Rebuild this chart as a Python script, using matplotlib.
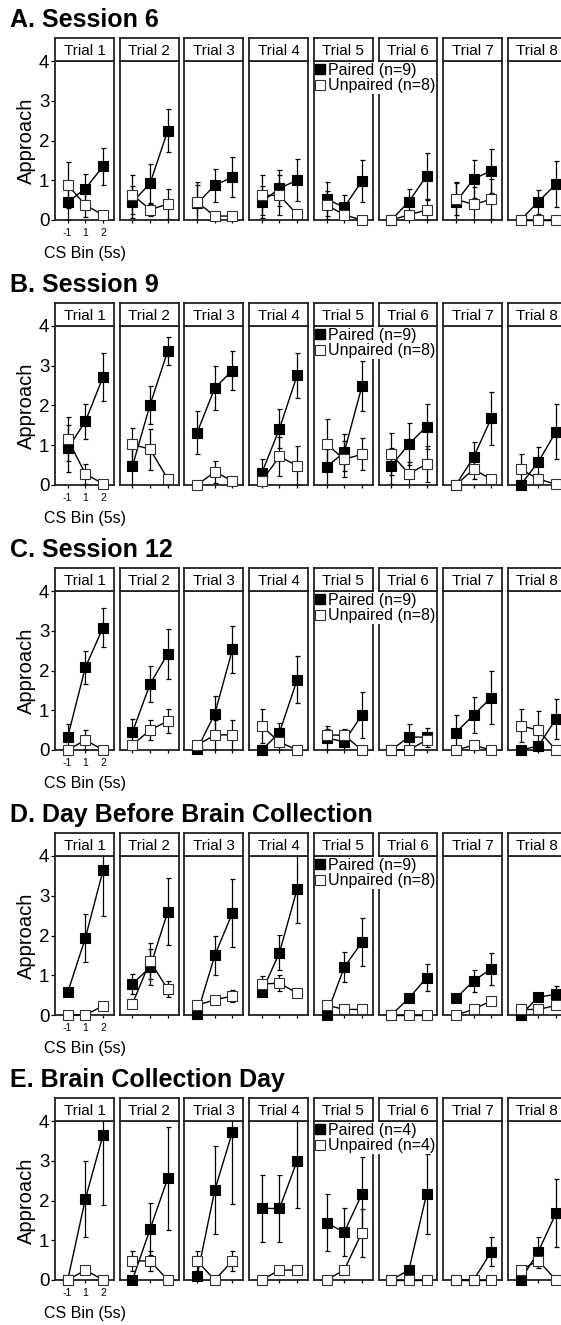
import matplotlib
matplotlib.use("Agg")
import matplotlib.pyplot as plt
from matplotlib.lines import Line2D

plt.rcParams['font.family'] = ['Liberation Sans', 'DejaVu Sans']

# ---- data: mean approach per CS bin (-1, 1, 2) for trials 1-8 ----
bin_labels = ['-1', '1', '2']
trial_names = ['Trial %d' % i for i in range(1, 9)]
section_titles = ['A. Session 6', 'B. Session 9', 'C. Session 12',
                  'D. Day Before Brain Collection', 'E. Brain Collection Day']
paired_labels = ['Paired (n=9)', 'Paired (n=9)', 'Paired (n=9)', 'Paired (n=9)', 'Paired (n=4)']
unpaired_labels = ['Unpaired (n=8)', 'Unpaired (n=8)', 'Unpaired (n=8)', 'Unpaired (n=8)', 'Unpaired (n=4)']

s6_paired = [[0.45, 0.79, 1.35], [0.45, 0.92, 2.25], [0.42, 0.87, 1.08], [0.45, 0.8, 1.0],
             [0.53, 0.32, 0.98], [0.0, 0.46, 1.11], [0.45, 1.03, 1.24], [0.0, 0.46, 0.9]]
s6_paired_sem = [[0.45, 0.37, 0.47], [0.4, 0.5, 0.53], [0.45, 0.42, 0.5], [0.4, 0.45, 0.53],
                 [0.43, 0.32, 0.53], [0.0, 0.32, 0.58], [0.5, 0.48, 0.55], [0.0, 0.3, 0.58]]
s6_unpaired = [[0.88, 0.38, 0.12], [0.64, 0.26, 0.4], [0.45, 0.1, 0.1], [0.62, 0.62, 0.14],
               [0.38, 0.13, 0.0], [0.0, 0.13, 0.25], [0.52, 0.39, 0.52], [0.0, 0.0, 0.0]]
s6_unpaired_sem = [[0.58, 0.3, 0.1], [0.5, 0.15, 0.38], [0.5, 0.1, 0.1], [0.5, 0.5, 0.1],
                   [0.35, 0.13, 0.0], [0.0, 0.13, 0.25], [0.4, 0.45, 0.5], [0.0, 0.0, 0.0]]

s9_paired = [[0.92, 1.6, 2.72], [0.47, 2.02, 3.37], [1.32, 2.44, 2.88], [0.3, 1.42, 2.76],
             [0.46, 0.82, 2.48], [0.48, 1.03, 1.47], [0.0, 0.7, 1.68], [0.0, 0.58, 1.34]]
s9_paired_sem = [[0.6, 0.45, 0.6], [0.5, 0.48, 0.35], [0.55, 0.55, 0.48], [0.35, 0.5, 0.56],
                 [0.45, 0.46, 0.63], [0.45, 0.52, 0.56], [0.0, 0.37, 0.67], [0.0, 0.37, 0.69]]
s9_unpaired = [[1.15, 0.28, 0.03], [1.02, 0.9, 0.15], [0.0, 0.33, 0.1], [0.1, 0.72, 0.48],
               [1.03, 0.65, 0.77], [0.78, 0.28, 0.53], [0.0, 0.4, 0.14], [0.4, 0.15, 0.02]]
s9_unpaired_sem = [[0.55, 0.25, 0.05], [0.42, 0.52, 0.1], [0.0, 0.27, 0.1], [0.1, 0.5, 0.49],
                   [0.63, 0.45, 0.4], [0.52, 0.3, 0.45], [0.0, 0.25, 0.1], [0.38, 0.12, 0.02]]

s12_paired = [[0.33, 2.08, 3.08], [0.45, 1.66, 2.42], [0.02, 0.91, 2.53], [0.0, 0.44, 1.77],
              [0.3, 0.21, 0.88], [0.0, 0.33, 0.32], [0.44, 0.88, 1.32], [0.0, 0.1, 0.78]]
s12_paired_sem = [[0.32, 0.42, 0.5], [0.32, 0.45, 0.63], [0.02, 0.45, 0.6], [0.0, 0.25, 0.6],
                  [0.3, 0.3, 0.58], [0.0, 0.32, 0.24], [0.44, 0.45, 0.66], [0.0, 0.1, 0.5]]
s12_unpaired = [[0.0, 0.25, 0.0], [0.13, 0.5, 0.73], [0.12, 0.38, 0.38], [0.6, 0.2, 0.0],
                [0.38, 0.37, 0.0], [0.0, 0.0, 0.25], [0.0, 0.12, 0.0], [0.61, 0.5, 0.0]]
s12_unpaired_sem = [[0.0, 0.25, 0.0], [0.1, 0.25, 0.31], [0.1, 0.37, 0.37], [0.42, 0.2, 0.0],
                    [0.15, 0.15, 0.0], [0.0, 0.0, 0.1], [0.0, 0.08, 0.0], [0.42, 0.48, 0.0]]

sdb_paired = [[0.57, 1.94, 3.64], [0.78, 1.2, 2.6], [0.02, 1.5, 2.57], [0.58, 1.57, 3.17],
              [0.0, 1.2, 1.83], [0.0, 0.42, 0.94], [0.42, 0.86, 1.16], [0.0, 0.45, 0.52]]
sdb_paired_sem = [[0.1, 0.61, 1.15], [0.25, 0.45, 0.85], [0.02, 0.5, 0.85], [0.05, 0.45, 0.85],
                  [0.0, 0.38, 0.6], [0.0, 0.08, 0.34], [0.08, 0.28, 0.41], [0.0, 0.08, 0.2]]
sdb_unpaired = [[0.0, 0.0, 0.23], [0.28, 1.35, 0.65], [0.25, 0.38, 0.48], [0.78, 0.8, 0.55],
                [0.25, 0.14, 0.14], [0.0, 0.0, 0.0], [0.0, 0.14, 0.36], [0.14, 0.14, 0.24]]
sdb_unpaired_sem = [[0.0, 0.0, 0.05], [0.05, 0.45, 0.2], [0.05, 0.1, 0.15], [0.2, 0.2, 0.05],
                    [0.05, 0.05, 0.05], [0.0, 0.0, 0.0], [0.0, 0.05, 0.08], [0.05, 0.05, 0.1]]

sbc_paired = [[0.0, 2.04, 3.65], [0.0, 1.28, 2.56], [0.1, 2.26, 3.73], [1.8, 1.8, 3.0],
              [1.44, 1.2, 2.16], [0.0, 0.25, 2.16], [0.0, 0.0, 0.71], [0.0, 0.71, 1.68]]
sbc_paired_sem = [[0.0, 0.96, 1.77], [0.0, 0.65, 1.3], [0.1, 1.1, 1.82], [0.85, 0.85, 1.2],
                  [0.72, 0.6, 0.94], [0.0, 0.05, 1.0], [0.0, 0.0, 0.36], [0.0, 0.36, 0.85]]
sbc_unpaired = [[0.0, 0.25, 0.0], [0.48, 0.48, 0.0], [0.48, 0.0, 0.48], [0.0, 0.25, 0.25],
                [0.0, 0.25, 1.19], [0.0, 0.0, 0.0], [0.0, 0.0, 0.0], [0.25, 0.49, 0.0]]
sbc_unpaired_sem = [[0.0, 0.05, 0.0], [0.25, 0.25, 0.0], [0.25, 0.0, 0.25], [0.0, 0.05, 0.05],
                    [0.0, 0.05, 0.6], [0.0, 0.0, 0.0], [0.0, 0.0, 0.0], [0.05, 0.2, 0.0]]

sections = [
    (s6_paired, s6_paired_sem, s6_unpaired, s6_unpaired_sem),
    (s9_paired, s9_paired_sem, s9_unpaired, s9_unpaired_sem),
    (s12_paired, s12_paired_sem, s12_unpaired, s12_unpaired_sem),
    (sdb_paired, sdb_paired_sem, sdb_unpaired, sdb_unpaired_sem),
    (sbc_paired, sbc_paired_sem, sbc_unpaired, sbc_unpaired_sem),
]

# ---- layout in pixels ----
W, H = 561, 1325
fig = plt.figure(figsize=(W / 100, H / 100), dpi=100)


def px_axes(left, top, w, h):
    return fig.add_axes([left / W, 1 - (top + h) / H, w / W, h / H])


x = [0, 1, 2]
edge = '#222222'
for s, (pm, ps, um, us) in enumerate(sections):
    base = 265 * s
    fig.text(10 / W, 1 - (base + 20) / H, section_titles[s], fontsize=18,
             fontweight='bold', va='center', ha='left')
    for j in range(8):
        left = 55 + 64.7 * j
        ax = px_axes(left, base + 61, 59, 159)
        ax.errorbar(x, pm[j], yerr=ps[j], fmt='none', ecolor='black',
                    elinewidth=0.9, capsize=1.8, capthick=0.9, zorder=2)
        ax.errorbar(x, um[j], yerr=us[j], fmt='none', ecolor='black',
                    elinewidth=0.9, capsize=1.8, capthick=0.9, zorder=2)
        ax.plot(x, pm[j], '-s', color='black', lw=1.0, ms=7.2,
                mfc='black', mec='black', mew=0.8, clip_on=False, zorder=3)
        ax.plot(x, um[j], '-s', color='black', lw=1.0, ms=7.2,
                mfc='white', mec='#333333', mew=0.8, clip_on=False, zorder=4)
        ax.set_xlim(-0.72, 2.62)
        ax.set_ylim(0, 4)
        ax.set_xticks(x)
        for sp in ax.spines.values():
            sp.set_linewidth(1.3)
            sp.set_color(edge)
        ax.tick_params(axis='x', direction='out', length=2.5, width=0.9, pad=3)
        if j == 0:
            ax.set_xticklabels(bin_labels, fontsize=7.5)
            ax.set_yticks([0, 1, 2, 3, 4])
            ax.tick_params(axis='y', direction='out', length=3, width=0.9,
                           labelsize=13.5, pad=1)
            ax.set_ylabel('Approach', fontsize=14.5, labelpad=2)
            ax.set_xlabel('CS Bin (5s)', fontsize=11.5, labelpad=6)
        else:
            ax.set_xticklabels([])
            ax.set_yticks([])
        if j == 4:
            handles = [
                Line2D([], [], ls='none', marker='s', ms=7, mfc='black', mec='black'),
                Line2D([], [], ls='none', marker='s', ms=7, mfc='white', mec='#333333', mew=0.8),
            ]
            leg = ax.legend(handles, [paired_labels[s], unpaired_labels[s]],
                            loc='upper left', bbox_to_anchor=(0.0, 1.0),
                            fontsize=11.5, frameon=True, framealpha=1,
                            facecolor='white', edgecolor='none', fancybox=False,
                            borderpad=0.05, borderaxespad=0.05, handlelength=0.6,
                            handletextpad=0.2, labelspacing=0.05)
            ax.set_zorder(5)
        # strip header
        hx = px_axes(left, base + 38, 59, 23)
        hx.set_zorder(10)
        hx.set_xticks([])
        hx.set_yticks([])
        for sp in hx.spines.values():
            sp.set_linewidth(1.3)
            sp.set_color(edge)
        hx.text(0.5, 0.45, trial_names[j], fontsize=11, ha='center', va='center',
                transform=hx.transAxes)

fig.savefig('out.png', dpi=100)
